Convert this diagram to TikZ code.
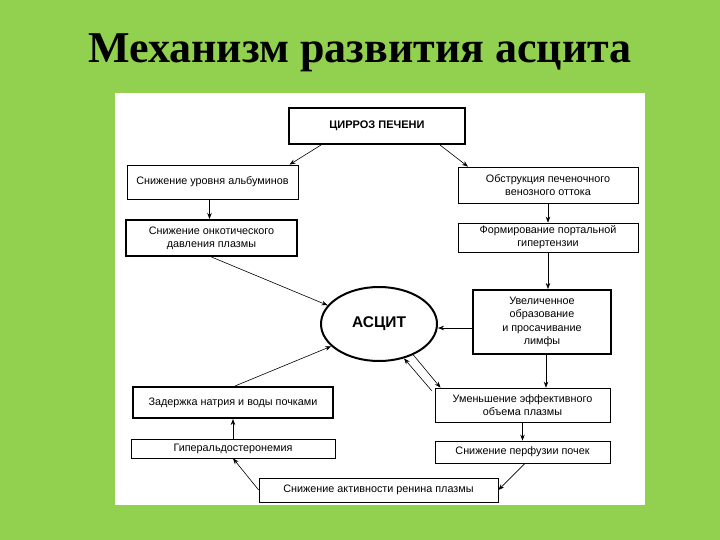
\documentclass[tikz,border=0pt]{standalone}
\usepackage{fontspec}
\setmainfont{Liberation Serif}
\newfontfamily\boxfont{Liberation Sans}
\usetikzlibrary{arrows.meta,shapes.geometric}
\definecolor{bggreen}{RGB}{146,208,80}
\tikzset{
  base box/.style={draw=black,rectangle,inner sep=0pt,align=center,font=\boxfont\fontsize{10.8}{13.2}\selectfont},
  thinbox/.style={base box,line width=0.7pt},
  thickbox/.style={base box,line width=2pt},
  arr/.style={-{Stealth[length=6pt,width=4.5pt]},line width=0.6pt},
}
\begin{document}
\begin{tikzpicture}[x=1pt,y=-1pt]
\useasboundingbox (0,0) rectangle (720,540);
\fill[bggreen] (0,0) rectangle (720,540);
\fill[white] (115,93) rectangle (645,505);
\node[anchor=base,font=\bfseries\fontsize{44}{52}\selectfont] (title) at (360,63) {Механизм развития асцита};

\node[thickbox,minimum width=176pt,minimum height=36pt,font=\boxfont\bfseries\fontsize{11}{13}\selectfont] (cirr) at (377,126) {ЦИРРОЗ ПЕЧЕНИ};
\node[thinbox,minimum width=171pt,minimum height=34pt] (alb) at (212.5,182) {Снижение уровня альбуминов};
\node[thickbox,minimum width=171pt,minimum height=36pt] (onk) at (211.5,238) {Снижение онкотического\\давления плазмы};
\node[thinbox,minimum width=180pt,minimum height=36pt] (obst) at (548,185) {Обструкция печеночного\\венозного оттока};
\node[thinbox,minimum width=180pt,minimum height=29pt] (port) at (548,237.5) {Формирование портальной\\гипертензии};
\node[thickbox,minimum width=138pt,minimum height=64pt] (lymph) at (542,322) {Увеличенное\\образование\\и просачивание\\лимфы};
\node[draw,ellipse,line width=2pt,minimum width=116pt,minimum height=74pt,inner sep=0pt,font=\boxfont\bfseries\fontsize{15.5}{18}\selectfont] (asc) at (379,324) {АСЦИТ};
\node[thinbox,minimum width=175pt,minimum height=34pt] (eff) at (522.5,405) {Уменьшение эффективного\\объема плазмы};
\node[thinbox,minimum width=175pt,minimum height=22pt] (perf) at (522.5,452) {Снижение перфузии почек};
\node[thinbox,minimum width=239pt,minimum height=24pt] (renin) at (378.5,490) {Снижение активности ренина плазмы};
\node[thinbox,minimum width=204pt,minimum height=19pt] (hyper) at (233,448.5) {Гиперальдостеронемия};
\node[thickbox,minimum width=200pt,minimum height=31pt] (sodium) at (233,402.5) {Задержка натрия и воды почками};

\draw[arr] ([xshift=-56pt]cirr.south) -- ([xshift=77pt]alb.north);
\draw[arr] ([xshift=63pt]cirr.south) -- ([xshift=-80pt]obst.north);
\draw[arr] ([xshift=-3pt]alb.south) -- ([xshift=-3pt]alb.south |- onk.north);
\draw[arr] (obst.south) -- (obst.south |- port.north);
\draw[arr] (port.south) -- (port.south |- lymph.north);
\draw[arr] (onk.south) -- (asc.160);
\draw[arr] ([yshift=-6pt]lymph.west) -- ([yshift=-6pt]lymph.west -| asc.east);
\draw[arr] ([xshift=4pt]lymph.south) -- ([xshift=4pt]lymph.south |- eff.north);
\draw[arr] (asc.-42) -- ([xshift=-82pt]eff.north);
\draw[arr] ([xshift=-3pt,yshift=-3pt]eff.north west) -- (asc.-54);
\draw[arr] (eff.south) -- (eff.south |- perf.north);
\draw[arr] ([xshift=2.5pt]perf.south) -- (renin.east);
\draw[arr] (renin.west) -- (hyper.south);
\draw[arr] (hyper.north) -- (hyper.north |- sodium.south);
\draw[arr] ([xshift=2pt]sodium.north) -- (asc.205);
\end{tikzpicture}
\end{document}
